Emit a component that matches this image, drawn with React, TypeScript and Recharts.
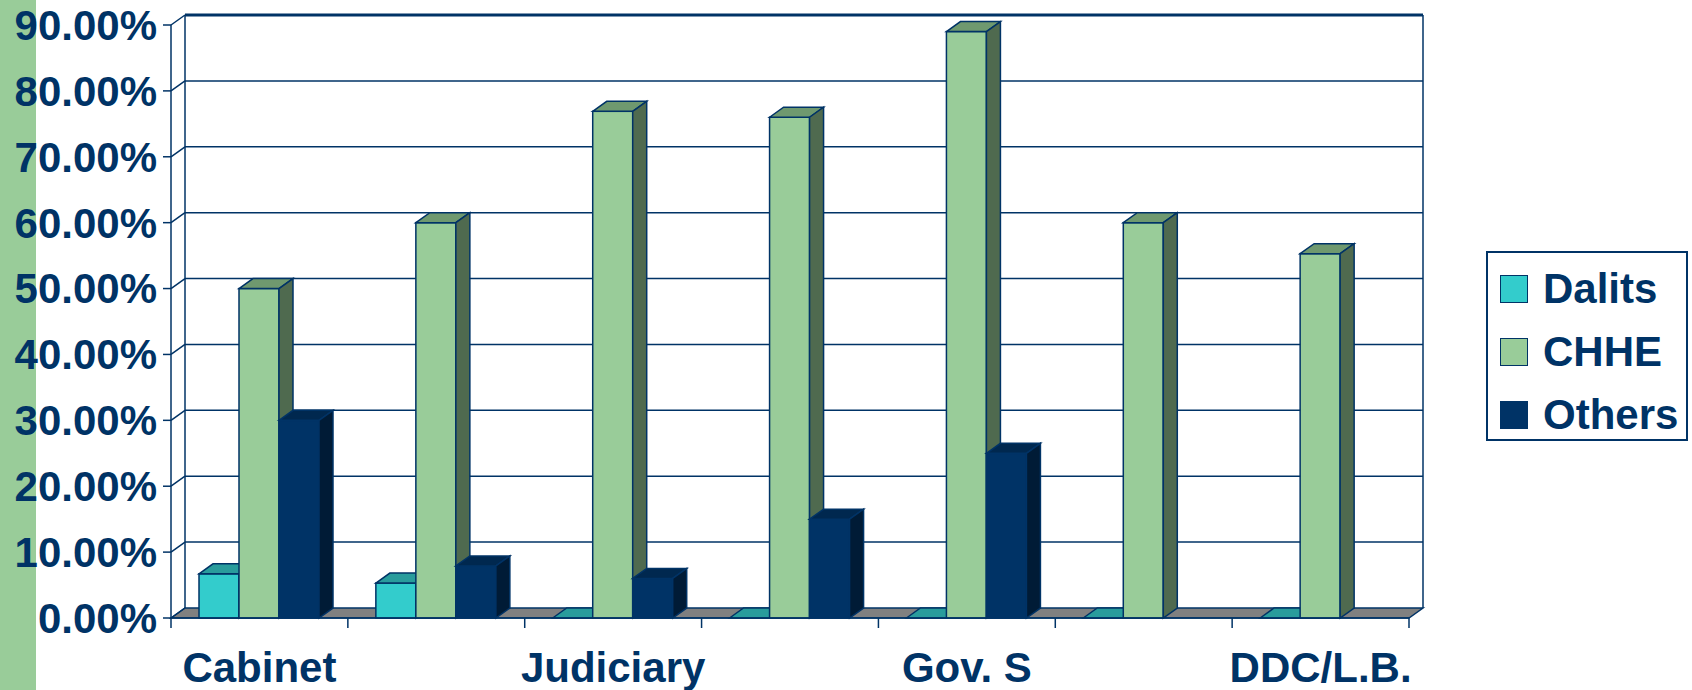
import React from "react";
import { Bar, BarChart, Legend, ReferenceArea, XAxis, YAxis } from "recharts";

// Categories: only every other label is printed on the axis.
const categories = [
  "Cabinet",
  "Legislature",
  "Judiciary",
  "Const. Bodies",
  "Gov. S",
  "Party Leaders",
  "DDC/L.B.",
];
const seriesNames = ["Dalits", "CHHE", "Others"];
const dalits = [6.7, 5.3, 0, 0, 0, 0, 0];
const chhe = [50, 60, 76.9, 76, 89, 60, 55.3];
const others: Array<number | null> = [30, 7.9, 6, 15, 25, null, null];
const yTicks = [0, 10, 20, 30, 40, 50, 60, 70, 80, 90];

const data = categories.map((name, i) => ({
  name,
  Dalits: dalits[i],
  CHHE: chhe[i],
  Others: others[i],
}));

const NAVY = "#003366";
const FONT = "'Liberation Sans', Arial, sans-serif";
// 3D depth of walls and bars.
const DX = 14;
const DY = 10;

type Face = { front: string; top: string; side: string };

/** 3D bar: front face, top and right side. Zero values show only a flat top. */
function make3DBar(key: string, face: Face) {
  return (props: any) => {
    const { x, y, width, height, payload } = props;
    if (payload == null || payload[key] == null) return <g />;
    const top = `${x},${y} ${x + DX},${y - DY} ${x + width + DX},${y - DY} ${x + width},${y}`;
    if (!height) {
      return (
        <g>
          <polygon points={top} fill={face.top} stroke={NAVY} strokeWidth={1.5} />
        </g>
      );
    }
    const side = `${x + width},${y} ${x + width + DX},${y - DY} ${x + width + DX},${y + height - DY} ${x + width},${y + height}`;
    return (
      <g>
        <rect x={x} y={y} width={width} height={height} fill={face.front} stroke={NAVY} strokeWidth={1.5} />
        <polygon points={top} fill={face.top} stroke={NAVY} strokeWidth={1.5} />
        <polygon points={side} fill={face.side} stroke={NAVY} strokeWidth={1.5} />
      </g>
    );
  };
}

/** Back wall, floor, gridlines and the little depth connectors. */
function Walls(props: any) {
  const { x, y, width, height } = props;
  const bottom = y + height;
  const right = x + width;
  const yOf = (v: number) => bottom - (height * v) / yTicks[yTicks.length - 1];
  const step = width / categories.length;
  return (
    <g>
      <polygon
        points={`${x},${bottom} ${x + DX},${bottom - DY} ${right + DX},${bottom - DY} ${right},${bottom}`}
        fill="#808080"
        stroke={NAVY}
        strokeWidth={1.5}
      />
      {yTicks.map((t) => (
        <g key={t}>
          <line x1={x} y1={yOf(t)} x2={x + DX} y2={yOf(t) - DY} stroke={NAVY} strokeWidth={1.5} />
          {t > 0 ? (
            <line
              x1={x + DX}
              y1={yOf(t) - DY}
              x2={right + DX}
              y2={yOf(t) - DY}
              stroke={NAVY}
              strokeWidth={t === 90 ? 3 : 1.5}
            />
          ) : null}
        </g>
      ))}
      <line x1={x + DX} y1={y - DY} x2={x + DX} y2={bottom - DY} stroke={NAVY} strokeWidth={1.5} />
      <line x1={right + DX} y1={y - DY} x2={right + DX} y2={bottom - DY} stroke={NAVY} strokeWidth={1.5} />
      {categories.map((_, i) => (
        <line
          key={i}
          x1={x + step * (i + 1)}
          y1={bottom}
          x2={x + step * (i + 1)}
          y2={bottom + 10}
          stroke={NAVY}
          strokeWidth={1.5}
        />
      ))}
      <line x1={x} y1={bottom} x2={x} y2={bottom + 10} stroke={NAVY} strokeWidth={1.5} />
    </g>
  );
}

function LegendBox(props: any) {
  const items = [...(props.payload ?? [])].sort(
    (a: any, b: any) => seriesNames.indexOf(a.value) - seriesNames.indexOf(b.value),
  );
  return (
    <div
      style={{
        boxSizing: "border-box",
        width: 202,
        height: 190,
        border: `2px solid ${NAVY}`,
        background: "#fff",
        paddingTop: 4,
        paddingLeft: 12,
        fontFamily: FONT,
      }}
    >
      {items.map((item: any) => (
        <div key={item.value} style={{ display: "flex", alignItems: "center", height: 63 }}>
          <span
            style={{
              boxSizing: "border-box",
              width: 28,
              height: 28,
              background: item.color,
              border: `1.5px solid ${NAVY}`,
              marginRight: 15,
            }}
          />
          <span style={{ fontSize: 42, fontWeight: 700, color: NAVY, lineHeight: 1 }}>
            {item.value}
          </span>
        </div>
      ))}
    </div>
  );
}

const tickStyle = { fill: NAVY, fontSize: 42, fontWeight: 700, fontFamily: FONT };

export default function App() {
  return (
    <div style={{ position: "absolute", left: 0, top: 0, width: 1692, height: 690, background: "#fff" }}>
      <div style={{ position: "absolute", left: 0, top: 0, width: 36, height: 690, background: "#99CC99" }} />
      <div style={{ position: "absolute", left: 0, top: 0 }}>
        <BarChart
          width={1692}
          height={690}
          data={data}
          margin={{ top: 25, right: 283, bottom: 0, left: 0 }}
          barSize={40}
          barGap={0}
          style={{ fontFamily: FONT }}
        >
          <XAxis
            dataKey="name"
            interval={1}
            height={72}
            tickLine={false}
            tickSize={6}
            tickMargin={28}
            axisLine={{ stroke: NAVY, strokeWidth: 1.5 }}
            tick={tickStyle}
          />
          <YAxis
            domain={[0, 90]}
            ticks={yTicks}
            width={171}
            tickSize={8}
            tickMargin={6}
            tickFormatter={(v: number) => `${v.toFixed(2)}%`}
            axisLine={{ stroke: NAVY, strokeWidth: 1.5 }}
            tickLine={{ stroke: NAVY, strokeWidth: 1.5 }}
            tick={tickStyle}
          />
          <ReferenceArea y1={0} y2={90} ifOverflow="visible" zIndex={-100} shape={Walls} />
          <Bar
            dataKey="Dalits"
            fill="#33CCCC"
            isAnimationActive={false}
            shape={make3DBar("Dalits", { front: "#33CCCC", top: "#299C9C", side: "#1F7A7A" })}
          />
          <Bar
            dataKey="CHHE"
            fill="#99CC99"
            isAnimationActive={false}
            shape={make3DBar("CHHE", { front: "#99CC99", top: "#6F996F", side: "#4F6A4F" })}
          />
          <Bar
            dataKey="Others"
            fill={NAVY}
            isAnimationActive={false}
            shape={make3DBar("Others", { front: NAVY, top: "#00284F", side: "#001B36" })}
          />
          <Legend
            layout="vertical"
            align="center"
            verticalAlign="middle"
            wrapperStyle={{ left: 1486, top: 251, width: 202, height: 190 }}
            content={LegendBox}
          />
        </BarChart>
      </div>
    </div>
  );
}
